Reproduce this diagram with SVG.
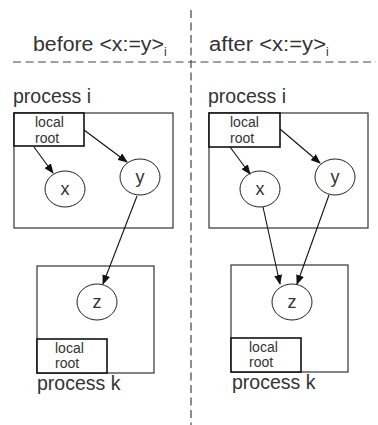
<svg xmlns="http://www.w3.org/2000/svg" width="378" height="425" viewBox="0 0 378 425">
<defs>
<marker id="ah" markerWidth="10" markerHeight="8" refX="9" refY="4" orient="auto" markerUnits="userSpaceOnUse">
<path d="M0,0 L10,4 L0,8 Z" fill="#111"/>
</marker>
<style>
.t{font-family:"Liberation Sans",Arial,sans-serif;fill:#333;}
.big{font-size:19.5px;}
.hd{font-size:20px;}
.sm{font-size:14px;}
.sub{font-size:12px;}
.node{font-size:18px;}
.box{fill:none;stroke:#333;stroke-width:1.2;}
.lr{fill:#fff;stroke:#111;stroke-width:1.6;}
.c{fill:#fff;stroke:#222;stroke-width:1;}
.e{fill:none;stroke:#111;stroke-width:1.1;}
.d{fill:none;stroke:#444;stroke-width:1.2;stroke-dasharray:8,4.5;}
</style>
</defs>
<g id="dividers">
<line class="d" x1="191" y1="10" x2="191" y2="425"/>
<line class="d" x1="13" y1="62" x2="376" y2="62"/>
</g>
<g id="headers">
<text class="t hd" x="33" y="51"><tspan textLength="131" lengthAdjust="spacingAndGlyphs">before &lt;x:=y&gt;</tspan><tspan class="sub" dy="5">i</tspan></text>
<text class="t hd" x="209" y="51"><tspan textLength="117" lengthAdjust="spacingAndGlyphs">after &lt;x:=y&gt;</tspan><tspan class="sub" dy="5">i</tspan></text>
</g>
<g id="left-process-i">
<text class="t big" x="13" y="103">process i</text>
<rect class="box" x="14" y="113" width="159" height="115"/>
</g>
<g id="left-localroot-i">
<rect class="lr" x="14" y="113" width="70" height="33"/>
<text class="t sm" x="35" y="127">local</text>
<text class="t sm" x="35" y="143">root</text>
</g>
<g id="left-x"><ellipse class="c" cx="65" cy="189" rx="20" ry="18"/><text class="t node" x="65" y="195" text-anchor="middle">x</text></g>
<g id="left-y"><ellipse class="c" cx="140" cy="177" rx="20" ry="18"/><text class="t node" x="140" y="183" text-anchor="middle">y</text></g>
<g id="left-process-k">
<rect class="box" x="37" y="266" width="117" height="107"/>
<text class="t big" x="37" y="390">process k</text>
</g>
<g id="left-z"><ellipse class="c" cx="97" cy="302" rx="20" ry="18"/><text class="t node" x="97" y="308" text-anchor="middle">z</text></g>
<g id="left-localroot-k">
<rect class="lr" x="37" y="339" width="70" height="34"/>
<text class="t sm" x="55" y="353">local</text>
<text class="t sm" x="55" y="368">root</text>
</g>
<g id="right-process-i">
<text class="t big" x="208" y="103">process i</text>
<rect class="box" x="209" y="113" width="159" height="115"/>
</g>
<g id="right-localroot-i">
<rect class="lr" x="209" y="113" width="71" height="34"/>
<text class="t sm" x="230" y="127">local</text>
<text class="t sm" x="230" y="143">root</text>
</g>
<g id="right-x"><ellipse class="c" cx="260" cy="189" rx="20" ry="18"/><text class="t node" x="260" y="195" text-anchor="middle">x</text></g>
<g id="right-y"><ellipse class="c" cx="335" cy="177" rx="20" ry="18"/><text class="t node" x="335" y="183" text-anchor="middle">y</text></g>
<g id="right-process-k">
<rect class="box" x="231" y="265" width="117" height="107"/>
<text class="t big" x="232" y="389">process k</text>
</g>
<g id="right-z"><ellipse class="c" cx="292" cy="302" rx="20" ry="18"/><text class="t node" x="292" y="308" text-anchor="middle">z</text></g>
<g id="right-localroot-k">
<rect class="lr" x="231" y="338" width="70" height="34"/>
<text class="t sm" x="249" y="352">local</text>
<text class="t sm" x="249" y="367">root</text>
</g>
<g id="connectors">
<line class="e" x1="34" y1="147" x2="53" y2="173" marker-end="url(#ah)"/>
<line class="e" x1="84" y1="130" x2="127" y2="162" marker-end="url(#ah)"/>
<line class="e" x1="137" y1="196" x2="103" y2="284" marker-end="url(#ah)"/>
<line class="e" x1="230" y1="147" x2="250" y2="174" marker-end="url(#ah)"/>
<line class="e" x1="280" y1="129" x2="320" y2="163" marker-end="url(#ah)"/>
<line class="e" x1="263" y1="207" x2="280" y2="284" marker-end="url(#ah)"/>
<line class="e" x1="329" y1="195" x2="297" y2="284" marker-end="url(#ah)"/>
</g>
</svg>
